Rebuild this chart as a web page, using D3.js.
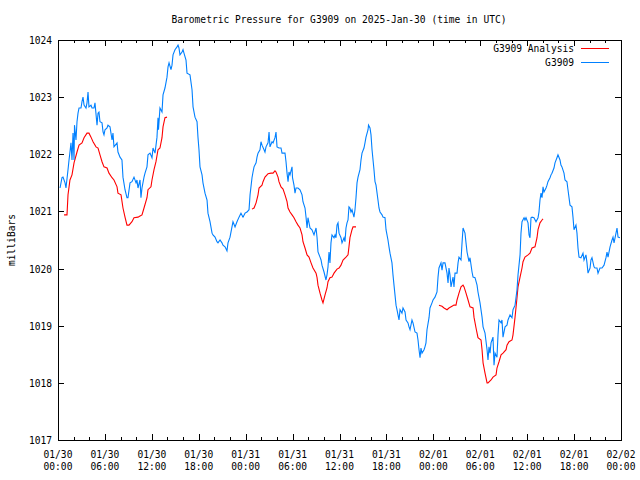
<!DOCTYPE html>
<html>
<head>
<meta charset="utf-8">
<script src="https://cdn.jsdelivr.net/npm/d3@7"></script>
<style>
  html, body { margin: 0; padding: 0; background: #fff; }
  svg { display: block; }
  text { font-family: "DejaVu Sans Mono", "Liberation Mono", monospace; font-size: 9.6px; fill: #000; }
</style>
</head>
<body>
<svg id="chart" width="640" height="480"></svg>
<script>
// ---- data (hours since 2025-01-30 00:00 UTC, pressure in mbar) ----
const titleText = "Barometric Pressure for G3909 on 2025-Jan-30 (time in UTC)";
const yLabel = "milliBars";
const seriesNames = ["G3909 Analysis", "G3909"];
const yTicks = [1017, 1018, 1019, 1020, 1021, 1022, 1023, 1024];
const xTickHours = [0, 6, 12, 18, 24, 30, 36, 42, 48, 54, 60, 66, 72];
const xMinorHours = d3.range(0, 73, 2);

const blueHours = [0.26,0.51,0.64,0.90,1.02,1.28,1.41,1.53,1.66,1.79,1.92,2.05,2.11,2.30,2.43,2.56,2.69,2.94,3.07,3.20,3.33,3.58,3.71,3.84,3.96,4.22,4.35,4.60,4.73,4.99,5.12,5.24,5.37,5.63,5.76,5.88,6.01,6.27,6.39,6.65,6.91,7.03,7.16,7.55,7.67,7.93,8.18,8.31,8.57,8.82,8.95,9.21,9.46,9.72,9.98,10.10,10.23,10.49,10.61,10.74,11.00,11.13,11.38,11.51,11.77,12.02,12.15,12.41,12.66,12.79,12.85,13.04,13.30,13.43,13.68,13.94,14.07,14.20,14.45,14.58,14.71,14.96,15.22,15.35,15.47,15.60,15.86,15.99,16.11,16.37,16.50,16.88,17.14,17.27,17.52,17.78,17.90,18.03,18.16,18.42,18.54,18.80,19.06,19.18,19.44,19.70,19.82,20.08,20.33,20.46,20.72,20.97,21.10,21.36,21.61,21.74,22.00,22.25,22.38,22.64,22.89,23.15,23.40,23.66,23.92,24.17,24.43,24.56,24.81,24.94,25.07,25.33,25.45,25.58,25.83,25.96,26.09,26.35,26.47,26.60,26.86,26.99,27.11,27.37,27.50,27.75,27.88,28.01,28.26,28.52,28.65,29.03,29.16,29.29,29.42,29.54,29.67,29.93,29.99,30.18,30.31,30.44,30.69,30.95,31.21,31.33,31.59,31.72,31.85,31.97,32.10,32.23,32.48,32.74,33.00,33.13,33.25,33.51,33.64,33.76,34.02,34.27,34.40,34.53,34.66,34.78,34.91,35.04,35.30,35.43,35.55,35.68,35.81,35.94,36.19,36.32,36.58,36.70,36.83,36.96,37.09,37.21,37.34,37.47,37.60,37.85,37.98,38.11,38.24,38.37,38.62,38.75,38.88,39.13,39.26,39.39,39.65,39.71,39.90,40.03,40.16,40.41,40.54,40.67,40.92,41.05,41.18,41.44,41.56,41.82,41.95,42.20,42.33,42.46,42.71,42.84,42.97,43.23,43.35,43.48,43.61,43.74,43.99,44.12,44.38,44.51,44.76,44.89,45.02,45.27,45.40,45.66,45.91,46.04,46.17,46.30,46.42,46.55,46.81,46.93,47.06,47.19,47.45,47.57,47.83,47.96,48.21,48.47,48.60,48.72,48.98,49.11,49.24,49.49,49.75,49.88,50.00,50.13,50.26,50.52,50.64,50.77,51.03,51.16,51.28,51.54,51.67,51.80,52.05,52.18,52.31,52.56,52.69,52.95,53.08,53.33,53.59,53.71,53.97,54.23,54.36,54.61,54.87,54.99,55.12,55.25,55.38,55.63,55.76,55.89,56.14,56.27,56.40,56.66,56.78,56.91,57.17,57.42,57.55,57.81,58.06,58.19,58.45,58.70,58.83,59.09,59.21,59.34,59.60,59.72,59.85,60.11,60.24,60.36,60.49,60.62,60.87,61.13,61.39,61.51,61.64,61.77,61.90,62.03,62.15,62.41,62.54,62.66,62.92,63.05,63.17,63.43,63.56,63.81,63.94,64.20,64.32,64.45,64.71,64.84,65.09,65.22,65.48,65.73,65.86,65.99,66.24,66.37,66.50,66.63,66.88,67.14,67.27,67.52,67.65,67.78,68.04,68.16,68.29,68.55,68.67,68.93,69.06,69.31,69.57,69.83,70.08,70.21,70.34,70.60,70.85,70.98,71.11,71.36,71.49,71.62,71.87];

const blueValues = [1021.41,1021.59,1021.60,1021.50,1021.41,1021.73,1021.90,1022.04,1022.20,1021.90,1022.37,1021.90,1022.51,1022.25,1022.57,1022.72,1022.81,1022.81,1022.92,1023.00,1022.86,1022.81,1022.90,1023.09,1022.83,1022.86,1022.81,1022.81,1022.90,1022.51,1022.72,1022.74,1022.57,1022.55,1022.39,1022.34,1022.43,1022.46,1022.51,1022.48,1022.25,1022.37,1022.13,1022.20,1022.04,1021.95,1021.90,1021.60,1021.38,1021.24,1021.24,1021.50,1021.52,1021.60,1021.50,1021.55,1021.41,1021.55,1021.24,1021.41,1021.60,1021.67,1021.78,1021.99,1022.02,1021.94,1022.11,1022.02,1022.30,1022.64,1022.43,1022.81,1022.74,1023.04,1023.16,1023.35,1023.53,1023.60,1023.48,1023.56,1023.74,1023.83,1023.88,1023.91,1023.86,1023.74,1023.79,1023.83,1023.77,1023.65,1023.42,1023.39,1023.13,1022.83,1022.65,1022.57,1022.30,1022.08,1021.78,1021.64,1021.50,1021.32,1021.20,1020.97,1020.82,1020.62,1020.59,1020.55,1020.47,1020.45,1020.50,1020.45,1020.41,1020.38,1020.31,1020.45,1020.55,1020.73,1020.82,1020.73,1020.82,1020.90,1020.97,1020.90,1020.97,1020.99,1021.03,1021.29,1021.59,1021.69,1021.78,1021.85,1021.95,1022.02,1022.08,1022.22,1022.16,1022.08,1022.04,1022.13,1022.20,1022.39,1022.13,1022.22,1022.20,1022.29,1022.39,1022.13,1022.11,1022.11,1022.02,1022.02,1021.87,1021.67,1021.52,1021.69,1021.64,1021.78,1021.59,1021.46,1021.32,1021.41,1021.41,1021.38,1021.29,1021.17,1021.06,1020.90,1020.71,1020.89,1020.80,1020.71,1020.68,1020.59,1020.71,1020.54,1020.29,1020.20,1020.15,1020.06,1019.94,1019.80,1019.89,1020.03,1020.29,1020.10,1020.45,1020.59,1020.54,1020.59,1020.54,1020.76,1020.80,1020.62,1020.54,1020.45,1020.54,1020.47,1020.71,1020.80,1020.85,1021.08,1021.06,1020.99,1021.03,1020.90,1021.03,1021.24,1021.50,1021.60,1021.73,1021.90,1022.02,1022.11,1022.20,1022.30,1022.43,1022.51,1022.46,1022.34,1022.08,1021.73,1021.52,1021.46,1021.20,1021.06,1020.99,1020.94,1020.90,1020.89,1020.68,1020.50,1020.38,1020.27,1020.10,1019.89,1019.71,1019.36,1019.28,1019.19,1019.10,1019.28,1019.22,1019.31,1019.24,1019.10,1019.05,1018.98,1018.93,1019.10,1019.05,1018.89,1018.87,1018.75,1018.58,1018.44,1018.61,1018.52,1018.58,1018.63,1018.70,1018.93,1019.14,1019.31,1019.40,1019.45,1019.50,1019.59,1019.85,1020.01,1020.10,1019.97,1020.10,1020.10,1019.92,1019.75,1020.01,1019.89,1019.68,1019.85,1019.68,1019.92,1019.92,1020.10,1020.20,1020.15,1020.45,1020.71,1020.62,1020.45,1020.29,1020.12,1020.19,1019.94,1019.85,1019.84,1019.71,1019.59,1019.40,1019.15,1018.98,1018.87,1018.58,1018.40,1018.63,1018.52,1018.70,1018.80,1018.31,1018.52,1018.45,1018.84,1019.10,1019.05,1019.10,1018.80,1018.98,1019.01,1019.10,1019.19,1019.14,1019.28,1019.36,1019.63,1019.89,1020.24,1020.62,1020.82,1020.89,1020.85,1020.89,1020.80,1020.59,1020.54,1020.89,1020.90,1020.89,1020.82,1020.89,1020.99,1021.20,1021.32,1021.24,1021.43,1021.34,1021.41,1021.46,1021.52,1021.59,1021.64,1021.67,1021.76,1021.85,1021.94,1021.99,1021.90,1021.81,1021.78,1021.67,1021.55,1021.52,1021.38,1021.11,1021.08,1020.90,1020.68,1020.76,1020.62,1020.36,1020.20,1020.19,1020.27,1020.15,1020.24,1020.10,1019.92,1020.01,1020.15,1020.19,1020.03,1020.01,1020.01,1019.92,1020.01,1020.01,1020.06,1020.19,1020.29,1020.20,1020.38,1020.50,1020.55,1020.45,1020.62,1020.71,1020.55,1020.54];

// Analysis series: null marks a gap between the three segments
const redHours = [0.77,1.15,1.28,1.53,1.79,2.05,2.43,2.69,3.07,3.33,3.71,3.96,4.22,4.48,4.86,5.12,5.37,5.63,5.88,6.27,6.52,6.91,7.16,7.55,7.67,8.06,8.31,8.57,8.82,9.08,9.46,9.72,10.23,10.49,10.74,11.00,11.38,11.51,11.89,12.02,12.28,12.53,12.79,13.04,13.30,13.43,13.68,13.94,
  18.00,
  24.81,25.07,25.33,25.58,25.71,26.09,26.22,26.47,26.73,26.86,27.24,27.50,27.75,27.88,28.14,28.26,28.52,28.78,29.03,29.29,29.42,29.67,29.93,30.18,30.44,30.69,30.95,31.21,31.33,31.59,31.85,32.10,32.36,32.61,33.00,33.13,33.25,33.51,33.76,33.89,34.15,34.40,34.53,34.78,35.04,35.30,35.68,35.94,36.19,36.45,36.83,37.09,37.21,37.34,37.60,37.73,38.11,
  43.00,
  48.72,49.11,49.37,49.75,50.00,50.39,50.64,50.90,51.03,51.28,51.54,51.80,51.93,52.18,52.44,52.69,53.08,53.20,53.46,53.71,54.10,54.23,54.36,54.61,54.87,54.99,55.38,55.63,56.02,56.14,56.40,56.66,56.91,57.30,57.42,57.68,58.06,58.19,58.45,58.70,58.83,59.09,59.34,59.47,59.72,60.11,60.36,60.62,61.00,61.26,61.39,61.64,61.90,62.03];

const redValues = [1020.94,1020.94,1021.29,1021.55,1021.64,1021.85,1022.04,1022.16,1022.20,1022.29,1022.37,1022.37,1022.30,1022.22,1022.13,1022.11,1021.99,1021.87,1021.78,1021.76,1021.67,1021.59,1021.55,1021.43,1021.32,1021.29,1021.06,1020.90,1020.76,1020.76,1020.82,1020.89,1020.90,1020.92,1020.94,1021.06,1021.24,1021.38,1021.43,1021.55,1021.73,1021.87,1022.08,1022.11,1022.29,1022.48,1022.64,1022.65,
  null,
  1021.04,1021.06,1021.15,1021.29,1021.41,1021.46,1021.52,1021.60,1021.64,1021.66,1021.67,1021.67,1021.71,1021.69,1021.60,1021.52,1021.43,1021.39,1021.29,1021.17,1021.06,1020.99,1020.94,1020.89,1020.82,1020.76,1020.71,1020.59,1020.47,1020.36,1020.24,1020.20,1020.10,1020.01,1019.92,1019.84,1019.71,1019.57,1019.45,1019.40,1019.54,1019.66,1019.77,1019.84,1019.85,1019.92,1019.99,1020.01,1020.06,1020.15,1020.20,1020.24,1020.38,1020.54,1020.68,1020.73,1020.73,
  null,
  1019.36,1019.34,1019.31,1019.28,1019.31,1019.34,1019.36,1019.36,1019.45,1019.57,1019.68,1019.71,1019.68,1019.57,1019.45,1019.33,1019.31,1019.15,1018.96,1018.79,1018.75,1018.58,1018.35,1018.17,1018.00,1018.00,1018.05,1018.10,1018.14,1018.26,1018.37,1018.49,1018.52,1018.58,1018.66,1018.72,1018.75,1018.84,1019.15,1019.49,1019.68,1019.85,1020.01,1020.12,1020.20,1020.24,1020.27,1020.36,1020.38,1020.54,1020.68,1020.80,1020.85,1020.87];

// ---- chart ----
const t0 = Date.UTC(2025, 0, 30, 0, 0);
const toDate = h => new Date(t0 + h * 3600e3);

const W = 640, H = 480;
const L = 58, R = 621, T = 40, B = 440;

const svg = d3.select("#chart");
svg.append("rect").attr("width", W).attr("height", H).attr("fill", "#fff");

const x = d3.scaleUtc().domain([toDate(0), toDate(72)]).range([L, R]);
const y = d3.scaleLinear().domain([1017, 1024]).range([B, T]);

const fmtDate = d3.utcFormat("%m/%d");
const fmtTime = d3.utcFormat("%H:%M");

const g = svg.append("g").attr("shape-rendering", "crispEdges");

// minor x ticks (bottom & top)
xMinorHours.forEach(h => {
  const isMajor = h % 6 === 0;
  const len = isMajor ? 6 : 3;
  const px = Math.round(x(toDate(h))) + 0.5;
  g.append("line").attr("x1", px).attr("x2", px).attr("y1", B).attr("y2", B - len).attr("stroke", "#000");
  g.append("line").attr("x1", px).attr("x2", px).attr("y1", T).attr("y2", T + len).attr("stroke", "#000");
});

// y ticks (left & right)
yTicks.forEach(v => {
  const py = Math.round(y(v)) + 0.5;
  g.append("line").attr("x1", L).attr("x2", L + 6).attr("y1", py).attr("y2", py).attr("stroke", "#000");
  g.append("line").attr("x1", R).attr("x2", R - 6).attr("y1", py).attr("y2", py).attr("stroke", "#000");
  svg.append("text").attr("x", 52).attr("y", py + 3.5).attr("text-anchor", "end").text(v);
});

// x tick labels
xTickHours.forEach(h => {
  const d = toDate(h);
  const px = x(d);
  svg.append("text").attr("x", px).attr("y", 458).attr("text-anchor", "middle").text(fmtDate(d));
  svg.append("text").attr("x", px).attr("y", 470).attr("text-anchor", "middle").text(fmtTime(d));
});

// border
g.append("rect").attr("x", L + 0.5).attr("y", T + 0.5).attr("width", R - L).attr("height", B - T)
  .attr("fill", "none").attr("stroke", "#000");

// title & y label
svg.append("text").attr("x", 339).attr("y", 23).attr("text-anchor", "middle").text(titleText);
svg.append("text").attr("transform", "translate(15,240) rotate(-90)").attr("text-anchor", "middle").text(yLabel);

// lines
const line = d3.line()
  .defined(d => d.v !== null)
  .x(d => x(toDate(d.h)))
  .y(d => y(d.v));

const redData = redHours.map((h, i) => ({ h, v: redValues[i] }));
const blueData = blueHours.map((h, i) => ({ h, v: blueValues[i] }));

svg.append("path").datum(redData).attr("d", line)
  .attr("fill", "none").attr("stroke", "#ff0000").attr("stroke-width", 1.1);
svg.append("path").datum(blueData).attr("d", line)
  .attr("fill", "none").attr("stroke", "#0080ff").attr("stroke-width", 1.1);

// legend
const legend = [
  { name: seriesNames[0], color: "#ff0000", y: 48 },
  { name: seriesNames[1], color: "#0080ff", y: 62 }
];
legend.forEach(d => {
  svg.append("text").attr("x", 574).attr("y", d.y + 4).attr("text-anchor", "end").text(d.name);
  svg.append("line").attr("x1", 581).attr("x2", 609).attr("y1", d.y + 0.5).attr("y2", d.y + 0.5)
    .attr("stroke", d.color).attr("stroke-width", 1).attr("shape-rendering", "crispEdges");
});
</script>
</body>
</html>
